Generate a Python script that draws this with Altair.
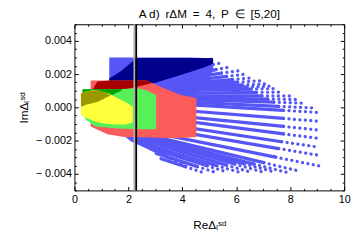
import altair as alt
import pandas as pd

FONT = "Liberation Sans"

# ---- values (y values in units of 1e-3) ----
# dense blue block
blue_x  = [1.29, 2.10, 2.60, 3.00, 3.60, 4.30, 4.80, 5.14]
blue_hi = [3.00, 3.00, 3.00, 3.00, 3.00, 3.00, 2.97, 2.93]
blue_lo = [-1.00, -2.06, -2.40, -2.30, -1.20, 0.50, 1.20, 2.20]

# blue fan of rays: start, middle (dense -> dotted), end
ray_x0 = [2.67, 2.67, 2.67, 2.67, 2.67, 2.67, 2.67, 2.67, 2.67, 2.67, 2.67,
          2.67, 2.67, 2.67, 2.67, 2.67, 2.67, 2.67, 2.67, 2.67, 2.67, 2.67,
          2.85, 3.03, 3.21, 2.31,
          2.67, 2.67, 2.67, 2.67, 2.67, 2.67]
ray_y0 = [1.93, 1.42, 1.37, 1.29, 1.26, 1.07, 0.97, 0.69, 0.54, 0.32, -0.01,
          -0.33, -0.53, -0.85, -1.13, -1.45, -1.64, -1.77, -1.82, -1.90, -2.05,
          -2.24, -2.47, -2.77, -3.09, -2.09,
          1.17, 1.02, 0.83, 0.62, 0.43, 1.65]
ray_xm = [4.66, 5.25, 5.45, 5.64, 5.86, 6.23, 6.55, 6.95, 7.39, 7.75, 7.75,
          7.75, 7.75, 7.68, 7.57, 7.46, 7.02, 6.66, 6.30, 5.94, 5.64, 5.28,
          4.92, 4.56, 4.12, 3.58,
          6.05, 6.40, 6.75, 7.17, 7.57, 4.95]
ray_ym = [2.74, 2.27, 2.06, 1.86, 1.67, 1.35, 1.10, 0.69, 0.31, -0.18, -0.67,
          -1.15, -1.60, -2.07, -2.48, -3.00, -3.33, -3.42, -3.40, -3.41, -3.48,
          -3.51, -3.52, -3.57, -3.58, -3.09,
          1.52, 1.23, 0.90, 0.50, 0.06, 2.50]
ray_x1 = [5.14, 5.68, 6.12, 6.41, 6.66, 7.09, 7.50, 7.99, 8.58, 9.06, 9.06,
          9.06, 9.06, 9.06, 9.06, 9.06, 8.37, 7.86, 7.46, 7.02, 6.55, 6.12,
          5.69, 5.22, 4.74, 4.30,
          6.88, 7.30, 7.75, 8.30, 8.84, 5.40]
ray_y1 = [2.93, 2.40, 2.21, 2.01, 1.78, 1.42, 1.13, 0.69, 0.25, -0.31, -0.84,
          -1.37, -1.87, -2.40, -2.89, -3.52, -3.85, -3.91, -3.91, -3.91, -3.91,
          -3.91, -3.91, -3.91, -3.91, -3.68,
          1.60, 1.28, 0.92, 0.47, -0.03, 2.66]

navy_x  = [1.29, 1.76, 2.30, 3.03, 4.12, 4.80, 5.14]
navy_hi = [1.74, 2.21, 2.97, 2.97, 2.97, 2.97, 2.95]
navy_lo = [0.62, 1.03, 1.24, 1.50, 2.03, 2.40, 2.62]

red_x  = [0.60, 1.22, 1.83, 2.67, 3.32, 3.94, 4.52]
red_hi = [1.62, 1.62, 1.62, 1.62, 1.15, 0.74, 0.56]
red_lo = [-1.15, -1.62, -1.79, -1.80, -1.85, -1.85, -1.79]

dred_x  = [0.70, 0.85, 1.33, 1.76, 2.31, 2.67, 2.85]
dred_hi = [1.15, 1.56, 1.62, 1.62, 1.62, 1.62, 1.50]
dred_lo = [0.30, 0.32, 0.68, 1.03, 1.24, 1.38, 1.45]

green_x  = [0.30, 0.42, 0.78, 1.58, 2.31, 2.67, 3.03]
green_hi = [1.09, 1.09, 1.09, 1.09, 1.15, 1.03, 0.74]
green_lo = [-0.32, -0.74, -1.15, -1.27, -1.32, -1.32, -1.32]

dgreen_x  = [0.30, 0.85, 1.40, 1.76]
dgreen_hi = [1.09, 1.09, 1.09, 1.09]
dgreen_lo = [0.06, 0.32, 0.74, 1.03]

yel_x  = [0.24, 0.42, 0.67, 0.89, 1.25, 1.62, 1.87, 2.16]
yel_hi = [0.85, 0.94, 1.03, 1.00, 0.85, 0.53, 0.34, 0.05]
yel_lo = [-0.44, -0.62, -0.79, -0.91, -1.00, -1.03, -1.03, -0.91]

olive_x  = [0.24, 0.49, 0.85, 1.22, 1.33]
olive_hi = [0.85, 0.97, 1.03, 0.85, 0.72]
olive_lo = [0.03, 0.18, 0.32, 0.62, 0.70]

cut_x = 2.29

x_ticks = [0, 0.5, 1, 1.5, 2, 2.5, 3, 3.5, 4, 4.5, 5, 5.5, 6, 6.5, 7, 7.5,
           8, 8.5, 9, 9.5, 10]
y_ticks = [-0.005, -0.0045, -0.004, -0.0035, -0.003, -0.0025, -0.002,
           -0.0015, -0.001, -0.0005, 0, 0.0005, 0.001, 0.0015, 0.002,
           0.0025, 0.003, 0.0035, 0.004, 0.0045, 0.005]

# ---- tables ----
def band(xs, lo, hi):
    return pd.DataFrame({"x": xs, "lo": [v * 1e-3 for v in lo],
                         "hi": [v * 1e-3 for v in hi]})

rows = []
for i in range(len(ray_x0)):
    rows.append(dict(ray=i, part="inner", x=ray_x0[i], y=ray_y0[i] * 1e-3))
    rows.append(dict(ray=i, part="inner", x=ray_xm[i], y=ray_ym[i] * 1e-3))
    rows.append(dict(ray=i, part="outer", x=ray_xm[i], y=ray_ym[i] * 1e-3))
    rows.append(dict(ray=i, part="outer", x=ray_x1[i], y=ray_y1[i] * 1e-3))
rays = pd.DataFrame(rows)

XS = alt.Scale(domain=[0, 10], nice=False, zero=False)
YS = alt.Scale(domain=[-0.005, 0.005], nice=False, zero=False)

x_dash = {"condition": {"test": "datum.value % 2 !== 0", "value": [0, 2, 2, 0]},
          "value": [4, 0]}
y_dash = {"condition": {"test": "round(datum.value * 2000) % 4 !== 0",
                        "value": [0, 2, 2, 0]}, "value": [4, 0]}

common = dict(offset=-4, tickSize=4, tickColor="black", tickWidth=1,
              domain=False, grid=False, labelFont=FONT, labelFontSize=11,
              labelColor="black", labelOverlap=False, labelFlush=False,
              titleFont=FONT, titleFontSize=12, titleFontWeight="normal",
              titleColor="black")

x_bottom = alt.Axis(values=x_ticks, tickDash=x_dash, labelPadding=3,
                    labelExpr="datum.value % 2 === 0 ? format(datum.value, 'd') : ''",
                    title="ReΔₗˢᵈ", titlePadding=16, **common)
x_top = alt.Axis(values=x_ticks, tickDash=x_dash, orient="top", labels=False,
                 title=None, **common)
y_left = alt.Axis(values=y_ticks, tickDash=y_dash, labelPadding=3,
                  labelExpr="round(datum.value * 2000) % 4 === 0 ? "
                            "(datum.value < -1e-9 ? '− ' + format(-datum.value, '.3f') "
                            ": format(abs(datum.value), '.3f')) : ''",
                  title="ImΔₗˢᵈ", titlePadding=5, **common)
y_right = alt.Axis(values=y_ticks, tickDash=y_dash, orient="right", labels=False,
                   title=None, **common)


def area(xs, lo, hi, color, xa=None, ya=None):
    return alt.Chart(band(xs, lo, hi)).mark_area(
        color=color, opacity=1, interpolate="linear").encode(
        x=alt.X("x:Q", scale=XS, axis=xa),
        y=alt.Y("lo:Q", scale=YS, axis=ya),
        y2="hi:Q")

BLUE = "#5656f6"

blue_layer = area(blue_x, blue_lo, blue_hi, BLUE, x_bottom, y_left)

ray_inner = alt.Chart(rays).transform_filter("datum.part === 'inner'").mark_line(
    color=BLUE, strokeWidth=3.3, strokeCap="round").encode(
    x=alt.X("x:Q", scale=XS, axis=None),
    y=alt.Y("y:Q", scale=YS, axis=None),
    detail="ray:N")
ray_outer = alt.Chart(rays).transform_filter("datum.part === 'outer'").mark_line(
    color=BLUE, strokeWidth=3.3, strokeCap="round", strokeDash=[0.1, 5.5]).encode(
    x=alt.X("x:Q", scale=XS, axis=None),
    y=alt.Y("y:Q", scale=YS, axis=None),
    detail="ray:N")

navy_layer = area(navy_x, navy_lo, navy_hi, "#00008c")
red_layer = area(red_x, red_lo, red_hi, "#fb5b5b")
dred_layer = area(dred_x, dred_lo, dred_hi, "#a80000")
green_layer = area(green_x, green_lo, green_hi, "#58f058")
dgreen_layer = area(dgreen_x, dgreen_lo, dgreen_hi, "#00a400")
yel_layer = area(yel_x, yel_lo, yel_hi, "#ffff3c")
olive_layer = area(olive_x, olive_lo, olive_hi, "#9a9a00", None, y_right)

cut = pd.DataFrame({"x": [cut_x]})
halo = alt.Chart(cut).mark_rule(color="#b0b0b0", strokeWidth=2, xOffset=-1.8).encode(
    x=alt.X("x:Q", scale=XS, axis=None))
rule = alt.Chart(cut).mark_rule(color="black", strokeWidth=1.8).encode(
    x=alt.X("x:Q", scale=XS, axis=x_top))

chart = alt.layer(
    blue_layer, ray_inner, ray_outer, navy_layer, red_layer, dred_layer,
    green_layer, dgreen_layer, yel_layer, olive_layer, halo, rule
).resolve_axis(x="independent", y="independent").properties(
    width=276, height=170,
    title=alt.TitleParams(
        text="A d)\u2002r\u0394M\u2002=\u20024,\u2002P\u2002\u2208\u2002[5,20]",
        font=FONT, fontSize=12, fontWeight="normal", color="black",
        anchor="middle", frame="group", offset=-3),
    autosize=alt.AutoSizeParams(type="none"),
    padding={"left": 68, "top": 14, "right": 8, "bottom": 44},
).configure_view(stroke="black", strokeWidth=1)

chart.save("out.html", embed_options={"renderer": "svg", "actions": False})
